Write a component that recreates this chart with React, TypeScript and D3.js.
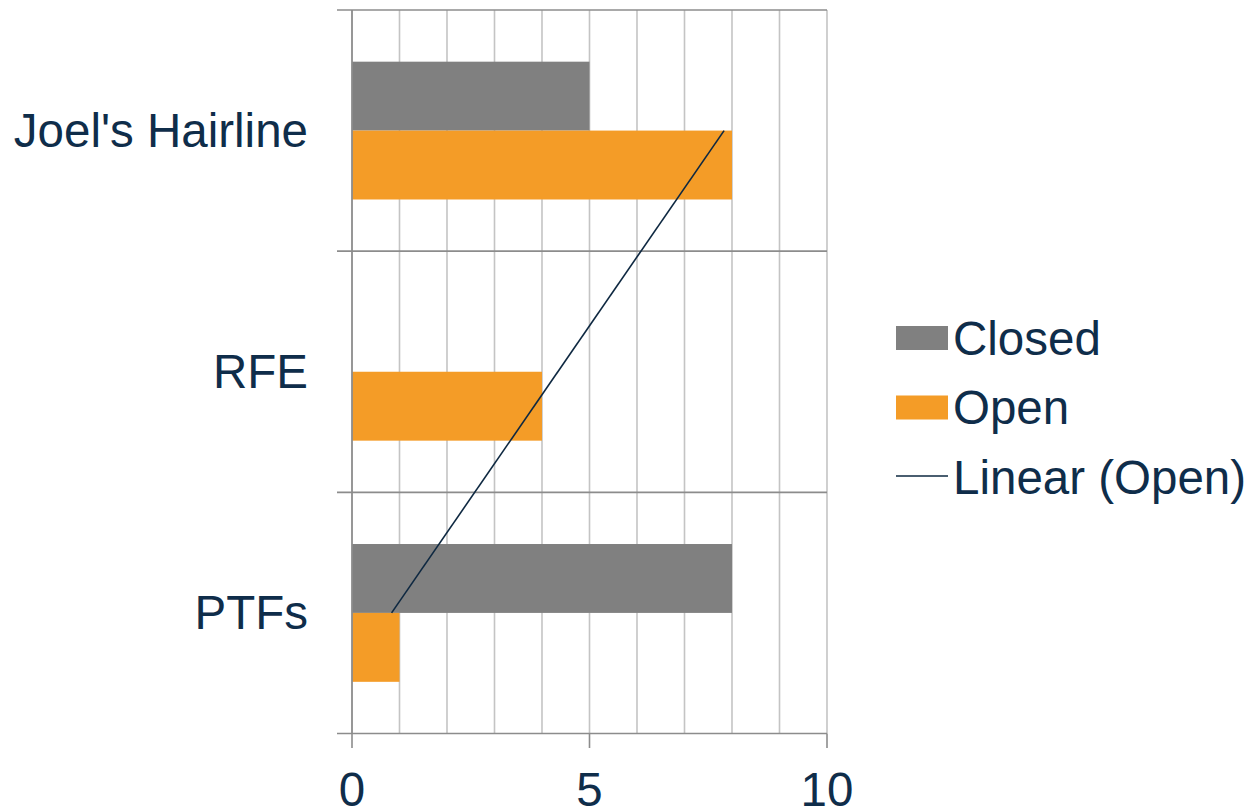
import React from "react";
import * as d3 from "d3";

const categories = ["PTFs", "RFE", "Joel's Hairline"];
const closedValues = [8, 0, 5];
const openValues = [1, 4, 8];
const xTicks = [0, 5, 10];
const legendItems = ["Closed", "Open", "Linear (Open)"];

const W = 1251;
const H = 811;
const TEXT = "#0f2d4a";
const GRAY = "#808080";
const ORANGE = "#f49c27";
const FONT = "'Liberation Sans', Arial, sans-serif";
const FS = 47.5;

export default function App() {
  const left = 352;
  const right = 827;
  const top = 10;
  const bottom = 733.5;

  const x = d3.scaleLinear().domain([0, 10]).range([left, right]);
  const y = d3
    .scaleBand<string>()
    .domain([...categories].reverse())
    .range([top, bottom])
    .paddingInner(0)
    .paddingOuter(0);
  const bw = y.bandwidth();
  const barH = bw / 3.5;
  const gap = (bw * 0.75) / 3.5;

  const n = openValues.length;
  const xs = d3.range(1, n + 1);
  const mx = d3.mean(xs)!;
  const my = d3.mean(openValues)!;
  const slope =
    d3.sum(xs.map((v, i) => (v - mx) * (openValues[i] - my))) /
    d3.sum(xs.map((v) => (v - mx) ** 2));
  const intercept = my - slope * mx;
  const trendPts: [number, number][] = categories.map((c, i) => [
    x(intercept + slope * (i + 1)),
    y(c)! + bw / 2,
  ]);
  const line = d3.line();

  const gridVals = d3.range(1, 11);
  const bandEdges = [top, ...categories.map((c) => y(c)! + bw)];

  return (
    <svg width={W} height={H} style={{ position: "absolute", left: 0, top: 0 }}>
      <rect width={W} height={H} fill="#fff" />
      {gridVals.map((v) => (
        <line key={v} x1={x(v)} x2={x(v)} y1={top} y2={bottom} stroke="#c4c4c4" strokeWidth={1.6} />
      ))}
      {bandEdges.map((e, i) => (
        <line key={i} x1={337} x2={right} y1={e} y2={e} stroke="#8c8c8c" strokeWidth={1.6} />
      ))}
      {categories.map((c, i) => {
        const y0 = y(c)! + gap;
        return (
          <g key={c}>
            <rect x={x(0)} y={y0} width={x(closedValues[i]) - x(0)} height={barH} fill={GRAY} />
            <rect x={x(0)} y={y0 + barH} width={x(openValues[i]) - x(0)} height={barH} fill={ORANGE} />
          </g>
        );
      })}
      <line x1={x(0)} x2={x(0)} y1={top} y2={bottom} stroke="#8c8c8c" strokeWidth={1.8} />
      {xTicks.map((t) => (
        <line key={t} x1={x(t)} x2={x(t)} y1={bottom} y2={748} stroke="#8c8c8c" strokeWidth={1.6} />
      ))}
      <path d={line(trendPts)!} fill="none" stroke="#0e2841" strokeWidth={1.6} />
      {xTicks.map((t) => (
        <text key={t} x={x(t)} y={806} textAnchor="middle" fontFamily={FONT} fontSize={FS} fill={TEXT}>
          {t}
        </text>
      ))}
      {categories.map((c) => (
        <text
          key={c}
          x={308}
          y={y(c)! + bw / 2 + 16.5}
          textAnchor="end"
          fontFamily={FONT}
          fontSize={FS}
          fill={TEXT}
        >
          {c}
        </text>
      ))}
      {legendItems.map((item, i) => {
        const cy = 338 + i * 69.5;
        return (
          <g key={item}>
            {i < 2 ? (
              <rect x={896} y={cy - 12} width={52} height={24} fill={i === 0 ? GRAY : ORANGE} />
            ) : (
              <line x1={896} x2={948} y1={cy - 1} y2={cy - 1} stroke="#0e2841" strokeWidth={1.6} />
            )}
            <text x={953} y={cy + 16.5} fontFamily={FONT} fontSize={FS} fill={TEXT}>
              {item}
            </text>
          </g>
        );
      })}
    </svg>
  );
}
